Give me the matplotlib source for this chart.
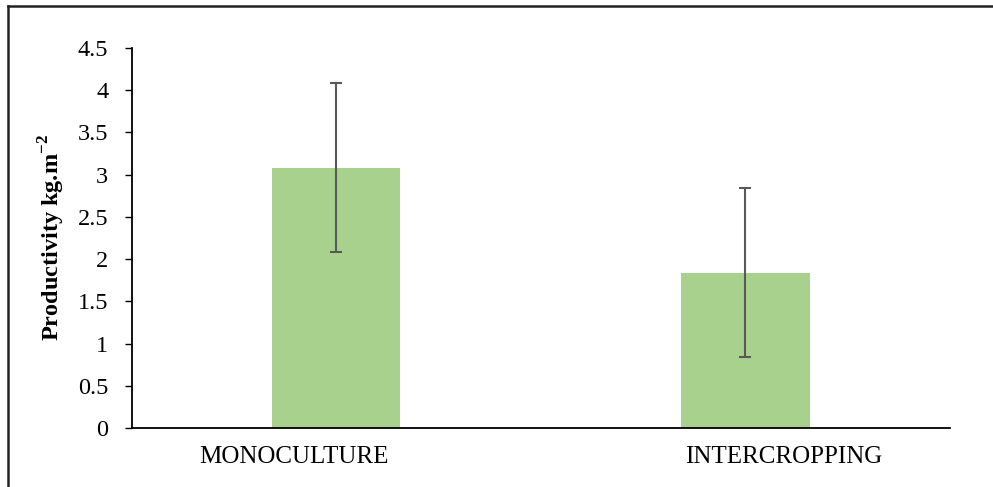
import matplotlib
matplotlib.use("Agg")
import matplotlib.pyplot as plt
import matplotlib.transforms as mtransforms
from matplotlib.lines import Line2D

# --- Data ---
categories = ["MONOCULTURE", "INTERCROPPING"]
productivity = [3.08, 1.84]
errors = [1.0, 1.0]

plt.rcParams["font.family"] = ["Liberation Serif", "DejaVu Serif"]
plt.rcParams["mathtext.fontset"] = "custom"
plt.rcParams["mathtext.rm"] = "Liberation Serif"
plt.rcParams["mathtext.bf"] = "Liberation Serif:bold"

fig = plt.figure(figsize=(9.93, 4.87), dpi=100)
ax = fig.add_axes([0.1329, 0.1211, 0.8238, 0.7803])

x = range(len(categories))
ax.bar(x, productivity, width=0.313, color="#a9d18e", zorder=2)
ax.errorbar(x, productivity, yerr=errors, fmt="none", ecolor="#595959",
            elinewidth=1.5, capsize=4.5, capthick=1.5, zorder=3)

ax.set_xlim(-0.5, 1.5)
ax.set_ylim(0, 4.5)
ax.set_yticks([0, 0.5, 1, 1.5, 2, 2.5, 3, 3.5, 4, 4.5])
ax.set_yticklabels(["0", "0.5", "1", "1.5", "2", "2.5", "3", "3.5", "4", "4.5"])
ax.set_xticks(list(x))
ax.set_xticklabels(categories)

ax.tick_params(axis="y", direction="out", length=5, width=1, labelsize=17.5, pad=12)
ax.tick_params(axis="x", length=0, labelsize=18, pad=13)

# the source image has its category labels slightly off-centre from the bars
label_shift_px = [-43, 38]
for lbl, dx in zip(ax.get_xticklabels(), label_shift_px):
    offset = mtransforms.ScaledTranslation(dx / 100, 0, fig.dpi_scale_trans)
    lbl.set_transform(lbl.get_transform() + offset)

for side in ["top", "right"]:
    ax.spines[side].set_visible(False)
for side in ["left", "bottom"]:
    ax.spines[side].set_linewidth(1.3)
    ax.spines[side].set_color("black")

ax.set_ylabel(r"Productivity kg.m$^{\mathbf{-2}}$", fontsize=17.5, fontweight="bold")
ax.yaxis.label.set_verticalalignment("center")
ax.yaxis.set_label_coords(-0.098, 0.5)

# --- Outer frame (top and left only, as in the source image) ---
fig.add_artist(Line2D([8 / 993, 1], [1 - 6 / 487, 1 - 6 / 487], transform=fig.transFigure,
                      color="#222222", linewidth=1.8))
fig.add_artist(Line2D([8 / 993, 8 / 993], [0, 1 - 6 / 487], transform=fig.transFigure,
                      color="#222222", linewidth=1.8))

fig.savefig("out.png", dpi=100)
